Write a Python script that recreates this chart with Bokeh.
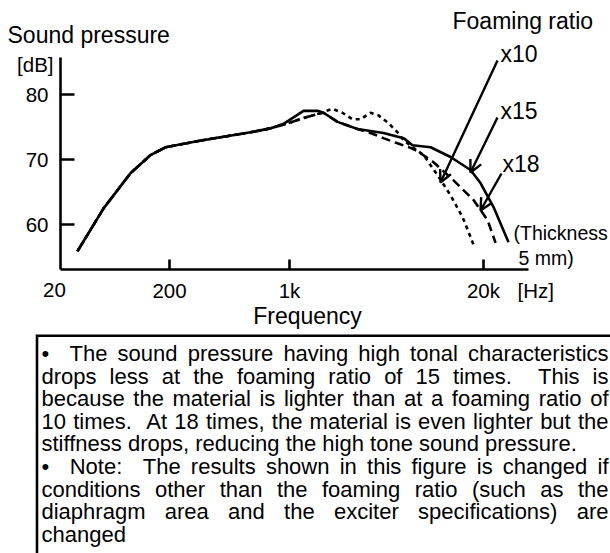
import re
import numpy as np
from bokeh.plotting import figure
from bokeh.models import Range1d, FixedTicker, Label, Arrow, OpenHead, ColumnDataSource
from bokeh.core.properties import value
from bokeh.embed import file_html
from bokeh.resources import INLINE

# ---------------- data ----------------
tick_freqs = [20, 200, 1000, 20000]
tick_labels = ["20", "200", "1k", "20k"]
db_ticks = [60, 70, 80]

freq_x15 = [28.6, 49.7, 87.7, 134, 184, 300, 593, 774, 923, 1064, 1242, 1541, 1690, 2099,
            2858, 3491, 4266, 5821, 6683, 8831, 12030, 16370, 19100, 23350, 29440]
db_x15 = [55.9, 62.5, 67.9, 70.7, 71.9, 72.9, 74.2, 74.8, 75.5, 76.5, 77.5, 77.5, 77.2, 75.8,
          74.7, 74.4, 74.1, 73.3, 72.2, 71.9, 70.4, 68.4, 66.4, 62.7, 57.3]

freq_x10 = [28.6, 49.7, 87.7, 134, 184, 300, 593, 774, 986, 1242, 1541, 1663, 1941, 2265,
            2647, 2994, 3491, 3954, 4613, 5297, 5821, 6792, 7925, 9840, 12030, 14450, 16370, 17420]
db_x10 = [55.9, 62.5, 67.9, 70.7, 71.9, 72.9, 74.2, 74.8, 75.6, 76.4, 77.0, 77.3, 77.8, 77.2,
          76.2, 76.2, 77.2, 76.8, 75.6, 74.2, 73.0, 71.8, 70.7, 67.6, 64.5, 61.2, 58.1, 56.5]

freq_x18 = [28.6, 49.7, 87.7, 134, 184, 300, 593, 774, 986, 1242, 1541, 1690, 2099, 2858,
            3491, 4266, 5297, 6486, 7328, 9244, 12600, 17140, 21290, 24100]
db_x18 = [55.9, 62.5, 67.9, 70.7, 71.9, 72.9, 74.2, 74.8, 75.6, 76.4, 77.0, 77.2, 75.8, 74.7,
          74.1, 73.3, 72.5, 71.8, 71.2, 69.6, 66.8, 63.8, 60.7, 57.2]

para_lines = [
    "\u2022  The sound pressure having high tonal characteristics",
    "drops less at the foaming ratio of 15 times.  This is",
    "because the material is lighter than at a foaming ratio of",
    "10 times.  At 18 times, the material is even lighter but the",
    "stiffness drops, reducing the high tone sound pressure.",
    "\u2022  Note:  The results shown in this figure is changed if",
    "conditions other than the foaming ratio (such as the",
    "diaphragm area and the exciter specifications) are",
    "changed",
]
para_justify = [True, True, True, True, False, True, True, True, False]

# ---------------- schematic frequency axis (layout) ----------------
AX_F = [20, 200, 1000, 20000, 100000]
AX_P = [0, 109, 229, 423, 527.2]


def fpos(f):
    return np.interp(np.log10(np.asarray(f, dtype=float)), np.log10(AX_F), AX_P)


W_PX, H_PX = 610, 553
Y_LO, Y_HI = 53.1, 85.7          # dB at bottom / top of the axes box
BOX_TOP, BOX_H, BOX_LEFT, BOX_W = 57, 212, 60, 468
PX_PER_DB = BOX_H / (Y_HI - Y_LO)
BASE_SHIFT = 0.29                # em, text anchor correction


def X(px):
    return px - BOX_LEFT


def Y(py):
    return Y_HI - (py - BOX_TOP) / PX_PER_DB


FONT = "Liberation Sans"

p = figure(width=W_PX, height=H_PX, output_backend="svg", toolbar_location=None, title=None,
           x_range=Range1d(X(0), X(W_PX)), y_range=Range1d(Y(H_PX), Y(0)), min_border=0)
p.outline_line_color = None
p.grid.visible = False
p.background_fill_color = "white"
p.border_fill_color = "white"

xt = [int(round(v)) for v in fpos(tick_freqs)]
# the "20" label at the axis origin sits slightly left of the origin: drawn as a Label below
p.xaxis.ticker = FixedTicker(ticks=xt[1:])
p.xaxis.major_label_overrides = {t: l for t, l in zip(xt[1:], tick_labels[1:])}
p.xaxis.fixed_location = Y_LO
p.xaxis.bounds = (0, BOX_W)
p.yaxis.ticker = FixedTicker(ticks=db_ticks)
p.yaxis.fixed_location = 0
p.yaxis.bounds = (Y_LO, Y_HI)
for ax in (p.xaxis, p.yaxis):
    ax.axis_line_width = 2.6
    ax.axis_line_color = "black"
    ax.major_tick_line_width = 2.6
    ax.major_tick_line_color = "black"
    ax.major_tick_out = 0
    ax.minor_tick_line_color = None
    ax.major_label_text_font = FONT
    ax.major_label_text_font_size = "20.5px"
    ax.major_label_text_color = "black"
p.yaxis.major_tick_in = 14
p.yaxis.major_label_standoff = 12
p.xaxis.major_tick_in = 10
p.xaxis.major_label_standoff = 9

p.line(fpos(freq_x15), db_x15, line_width=2.6, line_color="black")
p.line(fpos(freq_x18), db_x18, line_width=2.6, line_color="black", line_dash="9 5")
p.line(fpos(freq_x10), db_x10, line_width=2.6, line_color="black", line_dash="4 4")


def lab(text, px, py, size, align="left"):
    fs = float(size.replace("px", ""))
    p.add_layout(Label(x=X(px), y=Y(py - BASE_SHIFT * fs), text=text, text_font=FONT,
                       text_font_size=size, text_baseline="alphabetic", text_align=align,
                       text_color="black"))


lab("Sound pressure", 7, 41, "23px")
lab("[dB]", 53, 70, "20.5px", "right")
lab(tick_labels[0], 54, 295, "20.5px", "center")
lab("Foaming ratio", 452, 27, "23px")
lab("x10", 500, 60, "23px")
lab("x15", 500, 117, "23px")
lab("x18", 502, 170, "23px")
lab("(Thickness", 513, 238, "19.5px")
lab("5 mm)", 518, 263, "19.5px")
lab("[Hz]", 517, 296, "20.5px")
lab("Frequency", 307, 322, "23px", "center")

for (x0, y0, x1, y1) in [(497, 60, 440, 182), (497, 117, 470, 172), (501, 173, 480, 210)]:
    p.add_layout(Arrow(end=OpenHead(size=12, line_width=2.4, line_color="black"),
                       x_start=X(x0), y_start=Y(y0), x_end=X(x1), y_end=Y(y1),
                       line_width=2.4, line_color="black"))

# ---------------- text box ----------------
p.line([X(36.5), X(36.5), X(640)], [Y(570), Y(335.3), Y(335.3)], line_width=2.6,
       line_color="black", line_join="miter")

W = {' ': 278, 'a': 556, 'b': 556, 'c': 500, 'd': 556, 'e': 556, 'f': 278, 'g': 556, 'h': 556,
     'i': 222, 'j': 222, 'k': 500, 'l': 222, 'm': 833, 'n': 556, 'o': 556, 'p': 556, 'q': 556,
     'r': 333, 's': 500, 't': 278, 'u': 556, 'v': 500, 'w': 722, 'x': 500, 'y': 500, 'z': 500,
     'A': 667, 'N': 722, 'T': 611, '.': 278, ',': 278, ':': 278, '(': 333, ')': 333,
     '\u2022': 350}
FS = 22.0
L, R = 41.0, 608.0


def tw(s):
    return sum(W.get(c, 556) for c in s) / 1000.0 * FS


xs, ys, ts = [], [], []
for i, (line, just) in enumerate(zip(para_lines, para_justify)):
    base = 359.3 + i * 22.6 - BASE_SHIFT * FS
    if not just:
        xs.append(X(L)); ys.append(Y(base)); ts.append(line)
        continue
    parts = re.split(r'( +)', line)
    words = parts[0::2]
    gaps = [len(g) for g in parts[1::2]]
    ww = [tw(w) for w in words]
    sp = W[' '] / 1000.0 * FS
    extra = (R - L - sum(ww) - sum(gaps) * sp) / sum(gaps)
    x = L
    for k, w in enumerate(words):
        xs.append(X(x)); ys.append(Y(base)); ts.append(w)
        x += ww[k] + (gaps[k] * (sp + extra) if k < len(gaps) else 0)

src = ColumnDataSource(dict(x=xs, y=ys, t=ts))
p.text(x="x", y="y", text="t", source=src, text_font=value(FONT), text_font_size=value("22px"),
       text_baseline="alphabetic", text_align="left", text_color="black")

open("out.html", "w").write(file_html(p, INLINE))
